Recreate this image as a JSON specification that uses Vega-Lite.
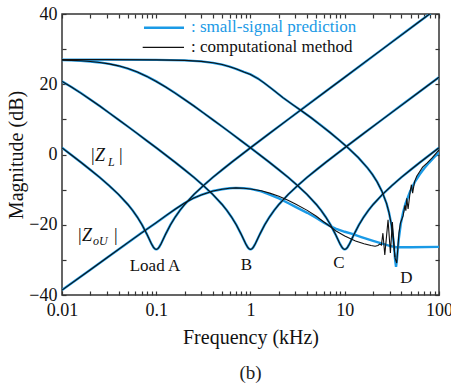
{
  "$schema": "https://vega.github.io/schema/vega-lite/v6.json",
  "width": 377,
  "height": 281,
  "autosize": "none",
  "padding": {"left": 62, "top": 14, "right": 12, "bottom": 88},
  "background": "white",
  "config": {
    "view": {"stroke": "#333333", "strokeWidth": 1.5},
    "font": "Liberation Serif",
    "axis": {"labelFont": "Liberation Serif", "titleFont": "Liberation Serif"},
    "text": {"font": "Liberation Serif"},
    "title": {"font": "Liberation Serif", "fontWeight": "normal"}
  },
  "title": {"text": "(b)", "orient": "bottom", "fontSize": 19, "fontWeight": "normal", "color": "#222222", "offset": 17},
  "datasets": {
    "zl": [
      {"load": "A", "f": 0.01, "db": 1.9}, {"load": "A", "f": 0.012589, "db": -0.14}, {"load": "A", "f": 0.015849, "db": -2.21}, {"load": "A", "f": 0.019953, "db": -4.33}, {"load": "A", "f": 0.025119, "db": -6.53}, {"load": "A", "f": 0.031623, "db": -8.85}, {"load": "A", "f": 0.039811, "db": -11.38}, {"load": "A", "f": 0.050119, "db": -14.27}, {"load": "A", "f": 0.056234, "db": -15.94}, {"load": "A", "f": 0.063096, "db": -17.85}, {"load": "A", "f": 0.070795, "db": -20.06}, {"load": "A", "f": 0.079433, "db": -22.66}, {"load": "A", "f": 0.08414, "db": -24.08}, {"load": "A", "f": 0.089125, "db": -25.47}, {"load": "A", "f": 0.093325, "db": -26.39}, {"load": "A", "f": 0.095499, "db": -26.72}, {"load": "A", "f": 0.097724, "db": -26.92}, {"load": "A", "f": 0.1, "db": -27.0}, {"load": "A", "f": 0.10233, "db": -26.92}, {"load": "A", "f": 0.10471, "db": -26.72}, {"load": "A", "f": 0.10715, "db": -26.39}, {"load": "A", "f": 0.1122, "db": -25.47}, {"load": "A", "f": 0.11885, "db": -24.08}, {"load": "A", "f": 0.12589, "db": -22.66}, {"load": "A", "f": 0.14125, "db": -20.06}, {"load": "A", "f": 0.15849, "db": -17.85}, {"load": "A", "f": 0.17783, "db": -15.94}, {"load": "A", "f": 0.19953, "db": -14.27}, {"load": "A", "f": 0.25119, "db": -11.38}, {"load": "A", "f": 0.31623, "db": -8.85}, {"load": "A", "f": 0.39811, "db": -6.53}, {"load": "A", "f": 0.50119, "db": -4.33}, {"load": "A", "f": 0.63096, "db": -2.21}, {"load": "A", "f": 0.79433, "db": -0.14}, {"load": "A", "f": 1, "db": 1.91}, {"load": "A", "f": 1.5849, "db": 5.97}, {"load": "A", "f": 2.5119, "db": 9.99}, {"load": "A", "f": 3.9811, "db": 14.0}, {"load": "A", "f": 6.3096, "db": 18.0}, {"load": "A", "f": 10, "db": 22.0}, {"load": "A", "f": 15.849, "db": 26.0}, {"load": "A", "f": 25.119, "db": 30.0}, {"load": "A", "f": 39.811, "db": 34.0}, {"load": "A", "f": 63.096, "db": 38.0}, {"load": "A", "f": 100, "db": 42.0},
      {"load": "B", "f": 0.01, "db": 20.81}, {"load": "B", "f": 0.012589, "db": 19.21}, {"load": "B", "f": 0.015849, "db": 17.48}, {"load": "B", "f": 0.019953, "db": 15.67}, {"load": "B", "f": 0.025119, "db": 13.79}, {"load": "B", "f": 0.031623, "db": 11.85}, {"load": "B", "f": 0.039811, "db": 9.9}, {"load": "B", "f": 0.050119, "db": 7.93}, {"load": "B", "f": 0.063096, "db": 5.94}, {"load": "B", "f": 0.079433, "db": 3.93}, {"load": "B", "f": 0.1, "db": 1.91}, {"load": "B", "f": 0.12589, "db": -0.14}, {"load": "B", "f": 0.15849, "db": -2.21}, {"load": "B", "f": 0.19953, "db": -4.33}, {"load": "B", "f": 0.25119, "db": -6.53}, {"load": "B", "f": 0.31623, "db": -8.85}, {"load": "B", "f": 0.39811, "db": -11.38}, {"load": "B", "f": 0.50119, "db": -14.27}, {"load": "B", "f": 0.56234, "db": -15.94}, {"load": "B", "f": 0.63096, "db": -17.85}, {"load": "B", "f": 0.70795, "db": -20.06}, {"load": "B", "f": 0.79433, "db": -22.66}, {"load": "B", "f": 0.8414, "db": -24.08}, {"load": "B", "f": 0.89125, "db": -25.47}, {"load": "B", "f": 0.93325, "db": -26.39}, {"load": "B", "f": 0.95499, "db": -26.72}, {"load": "B", "f": 0.97724, "db": -26.92}, {"load": "B", "f": 1, "db": -27.0}, {"load": "B", "f": 1.0233, "db": -26.92}, {"load": "B", "f": 1.0471, "db": -26.72}, {"load": "B", "f": 1.0715, "db": -26.39}, {"load": "B", "f": 1.122, "db": -25.47}, {"load": "B", "f": 1.1885, "db": -24.08}, {"load": "B", "f": 1.2589, "db": -22.66}, {"load": "B", "f": 1.4125, "db": -20.06}, {"load": "B", "f": 1.5849, "db": -17.85}, {"load": "B", "f": 1.7783, "db": -15.94}, {"load": "B", "f": 1.9953, "db": -14.27}, {"load": "B", "f": 2.5119, "db": -11.38}, {"load": "B", "f": 3.1623, "db": -8.85}, {"load": "B", "f": 3.9811, "db": -6.53}, {"load": "B", "f": 5.0119, "db": -4.33}, {"load": "B", "f": 6.3096, "db": -2.21}, {"load": "B", "f": 7.9433, "db": -0.14}, {"load": "B", "f": 10, "db": 1.91}, {"load": "B", "f": 15.849, "db": 5.97}, {"load": "B", "f": 25.119, "db": 9.99}, {"load": "B", "f": 39.811, "db": 14.0}, {"load": "B", "f": 63.096, "db": 18.0}, {"load": "B", "f": 100, "db": 22.0},
      {"load": "C", "f": 0.01, "db": 26.87}, {"load": "C", "f": 0.012589, "db": 26.79}, {"load": "C", "f": 0.015849, "db": 26.67}, {"load": "C", "f": 0.019953, "db": 26.49}, {"load": "C", "f": 0.025119, "db": 26.21}, {"load": "C", "f": 0.031623, "db": 25.81}, {"load": "C", "f": 0.039811, "db": 25.24}, {"load": "C", "f": 0.050119, "db": 24.46}, {"load": "C", "f": 0.063096, "db": 23.46}, {"load": "C", "f": 0.079433, "db": 22.24}, {"load": "C", "f": 0.1, "db": 20.81}, {"load": "C", "f": 0.12589, "db": 19.21}, {"load": "C", "f": 0.15849, "db": 17.48}, {"load": "C", "f": 0.19953, "db": 15.67}, {"load": "C", "f": 0.25119, "db": 13.79}, {"load": "C", "f": 0.31623, "db": 11.85}, {"load": "C", "f": 0.39811, "db": 9.9}, {"load": "C", "f": 0.50119, "db": 7.93}, {"load": "C", "f": 0.63096, "db": 5.94}, {"load": "C", "f": 0.79433, "db": 3.93}, {"load": "C", "f": 1, "db": 1.9}, {"load": "C", "f": 1.2589, "db": -0.14}, {"load": "C", "f": 1.5849, "db": -2.21}, {"load": "C", "f": 1.9953, "db": -4.33}, {"load": "C", "f": 2.5119, "db": -6.53}, {"load": "C", "f": 3.1623, "db": -8.85}, {"load": "C", "f": 3.9811, "db": -11.38}, {"load": "C", "f": 5.0119, "db": -14.27}, {"load": "C", "f": 5.6234, "db": -15.94}, {"load": "C", "f": 6.3096, "db": -17.85}, {"load": "C", "f": 7.0795, "db": -20.06}, {"load": "C", "f": 7.9433, "db": -22.66}, {"load": "C", "f": 8.414, "db": -24.08}, {"load": "C", "f": 8.9125, "db": -25.47}, {"load": "C", "f": 9.3325, "db": -26.39}, {"load": "C", "f": 9.5499, "db": -26.72}, {"load": "C", "f": 9.7724, "db": -26.92}, {"load": "C", "f": 10, "db": -27.0}, {"load": "C", "f": 10.233, "db": -26.92}, {"load": "C", "f": 10.471, "db": -26.72}, {"load": "C", "f": 10.715, "db": -26.39}, {"load": "C", "f": 11.22, "db": -25.47}, {"load": "C", "f": 11.885, "db": -24.08}, {"load": "C", "f": 12.589, "db": -22.66}, {"load": "C", "f": 14.125, "db": -20.06}, {"load": "C", "f": 15.849, "db": -17.85}, {"load": "C", "f": 17.783, "db": -15.94}, {"load": "C", "f": 19.953, "db": -14.27}, {"load": "C", "f": 25.119, "db": -11.38}, {"load": "C", "f": 31.623, "db": -8.85}, {"load": "C", "f": 39.811, "db": -6.53}, {"load": "C", "f": 50.119, "db": -4.33}, {"load": "C", "f": 63.096, "db": -2.21}, {"load": "C", "f": 79.433, "db": -0.14}, {"load": "C", "f": 100, "db": 1.91}
    ],
    "blue": [
      {"curve": "D", "f": 0.01, "db": 27.0}, {"curve": "D", "f": 0.03, "db": 27.0}, {"curve": "D", "f": 0.1, "db": 26.95}, {"curve": "D", "f": 0.2, "db": 26.8}, {"curve": "D", "f": 0.3, "db": 26.5}, {"curve": "D", "f": 0.4, "db": 26.1}, {"curve": "D", "f": 0.5, "db": 25.6}, {"curve": "D", "f": 0.6, "db": 25.0}, {"curve": "D", "f": 0.7, "db": 24.4}, {"curve": "D", "f": 0.85, "db": 23.5}, {"curve": "D", "f": 1.0, "db": 22.8}, {"curve": "D", "f": 1.2, "db": 21.6}, {"curve": "D", "f": 1.393, "db": 20.4}, {"curve": "D", "f": 1.7, "db": 18.6}, {"curve": "D", "f": 2.208, "db": 16.2}, {"curve": "D", "f": 2.8, "db": 14.2}, {"curve": "D", "f": 3.5, "db": 12.4}, {"curve": "D", "f": 4.4, "db": 10.46}, {"curve": "D", "f": 5.54, "db": 8.38}, {"curve": "D", "f": 6.98, "db": 6.25}, {"curve": "D", "f": 8.79, "db": 4.03}, {"curve": "D", "f": 11.07, "db": 1.68}, {"curve": "D", "f": 13.94, "db": -0.9}, {"curve": "D", "f": 17.54, "db": -3.91}, {"curve": "D", "f": 19.68, "db": -5.7}, {"curve": "D", "f": 22.08, "db": -7.81}, {"curve": "D", "f": 24.78, "db": -10.44}, {"curve": "D", "f": 27.8, "db": -14.0}, {"curve": "D", "f": 29.44, "db": -16.47}, {"curve": "D", "f": 31.19, "db": -19.87}, {"curve": "D", "f": 32.66, "db": -23.87}, {"curve": "D", "f": 33.42, "db": -26.62}, {"curve": "D", "f": 34.2, "db": -29.93}, {"curve": "D", "f": 35.0, "db": -32.0}, {"curve": "D", "f": 35.82, "db": -29.93}, {"curve": "D", "f": 36.65, "db": -26.62}, {"curve": "D", "f": 37.51, "db": -23.87}, {"curve": "D", "f": 39.27, "db": -19.87}, {"curve": "D", "f": 41.61, "db": -16.47}, {"curve": "D", "f": 44.06, "db": -14.0}, {"curve": "D", "f": 49.44, "db": -10.44}, {"curve": "D", "f": 55.47, "db": -7.81}, {"curve": "D", "f": 62.24, "db": -5.7}, {"curve": "D", "f": 69.83, "db": -3.91}, {"curve": "D", "f": 78.7, "db": -2.3}, {"curve": "D", "f": 87.9, "db": -0.9}, {"curve": "D", "f": 100, "db": 0.54},
      {"curve": "ZoU", "f": 0.01, "db": -38.6}, {"curve": "ZoU", "f": 0.02, "db": -32.8}, {"curve": "ZoU", "f": 0.03, "db": -29.4}, {"curve": "ZoU", "f": 0.05, "db": -25.1}, {"curve": "ZoU", "f": 0.07, "db": -22.3}, {"curve": "ZoU", "f": 0.1, "db": -19.4}, {"curve": "ZoU", "f": 0.13, "db": -17.2}, {"curve": "ZoU", "f": 0.16, "db": -15.5}, {"curve": "ZoU", "f": 0.2, "db": -13.8}, {"curve": "ZoU", "f": 0.25, "db": -12.4}, {"curve": "ZoU", "f": 0.3, "db": -11.5}, {"curve": "ZoU", "f": 0.4, "db": -10.4}, {"curve": "ZoU", "f": 0.5, "db": -9.9}, {"curve": "ZoU", "f": 0.6, "db": -9.6}, {"curve": "ZoU", "f": 0.7, "db": -9.5}, {"curve": "ZoU", "f": 0.85, "db": -9.6}, {"curve": "ZoU", "f": 1.0, "db": -9.8}, {"curve": "ZoU", "f": 1.3, "db": -10.5}, {"curve": "ZoU", "f": 1.6, "db": -11.4}, {"curve": "ZoU", "f": 2.0, "db": -12.5}, {"curve": "ZoU", "f": 2.5, "db": -13.8}, {"curve": "ZoU", "f": 3.0, "db": -14.9}, {"curve": "ZoU", "f": 4.0, "db": -16.6}, {"curve": "ZoU", "f": 5.0, "db": -18.1}, {"curve": "ZoU", "f": 6.0, "db": -19.4}, {"curve": "ZoU", "f": 7.0, "db": -20.4}, {"curve": "ZoU", "f": 8.0, "db": -21.1}, {"curve": "ZoU", "f": 10, "db": -22.0}, {"curve": "ZoU", "f": 12, "db": -22.6}, {"curve": "ZoU", "f": 15, "db": -23.5}, {"curve": "ZoU", "f": 20, "db": -24.6}, {"curve": "ZoU", "f": 25, "db": -25.4}, {"curve": "ZoU", "f": 30, "db": -26.0}, {"curve": "ZoU", "f": 35, "db": -26.4}, {"curve": "ZoU", "f": 50, "db": -26.4}, {"curve": "ZoU", "f": 100, "db": -26.3}
    ],
    "black": [
      {"curve": "D", "f": 0.01, "db": 27.0}, {"curve": "D", "f": 0.03, "db": 27.0}, {"curve": "D", "f": 0.1, "db": 26.95}, {"curve": "D", "f": 0.2, "db": 26.8}, {"curve": "D", "f": 0.3, "db": 26.5}, {"curve": "D", "f": 0.4, "db": 26.1}, {"curve": "D", "f": 0.5, "db": 25.6}, {"curve": "D", "f": 0.6, "db": 25.0}, {"curve": "D", "f": 0.7, "db": 24.4}, {"curve": "D", "f": 0.85, "db": 23.5}, {"curve": "D", "f": 1.0, "db": 22.8}, {"curve": "D", "f": 1.2, "db": 21.6}, {"curve": "D", "f": 1.393, "db": 20.4}, {"curve": "D", "f": 1.7, "db": 18.6}, {"curve": "D", "f": 2.208, "db": 16.2}, {"curve": "D", "f": 2.8, "db": 14.2}, {"curve": "D", "f": 3.5, "db": 12.4}, {"curve": "D", "f": 4.4, "db": 10.46}, {"curve": "D", "f": 5.54, "db": 8.38}, {"curve": "D", "f": 6.98, "db": 6.25}, {"curve": "D", "f": 8.79, "db": 4.03}, {"curve": "D", "f": 11.07, "db": 1.68}, {"curve": "D", "f": 13.94, "db": -0.9}, {"curve": "D", "f": 17.54, "db": -3.91}, {"curve": "D", "f": 19.68, "db": -5.7}, {"curve": "D", "f": 22.08, "db": -7.81}, {"curve": "D", "f": 24.78, "db": -10.44}, {"curve": "D", "f": 27.8, "db": -14.0}, {"curve": "D", "f": 29.44, "db": -16.47}, {"curve": "D", "f": 31.19, "db": -19.87}, {"curve": "D", "f": 32.66, "db": -23.87}, {"curve": "D", "f": 33.42, "db": -26.62}, {"curve": "D", "f": 34.2, "db": -29.5}, {"curve": "D", "f": 35.6, "db": -30.9}, {"curve": "D", "f": 37.6, "db": -22.4}, {"curve": "D", "f": 39.0, "db": -19.5}, {"curve": "D", "f": 41.6, "db": -17.5}, {"curve": "D", "f": 43.5, "db": -14.5}, {"curve": "D", "f": 44.5, "db": -16.0}, {"curve": "D", "f": 45.5, "db": -12.5}, {"curve": "D", "f": 47.0, "db": -15.5}, {"curve": "D", "f": 49.5, "db": -10.5}, {"curve": "D", "f": 51.0, "db": -8.6}, {"curve": "D", "f": 52.5, "db": -11.0}, {"curve": "D", "f": 55.0, "db": -7.8}, {"curve": "D", "f": 58.0, "db": -6.2}, {"curve": "D", "f": 62, "db": -5.0}, {"curve": "D", "f": 67, "db": -3.6}, {"curve": "D", "f": 75, "db": -2.4}, {"curve": "D", "f": 85, "db": -0.9}, {"curve": "D", "f": 100, "db": 1.3},
      {"curve": "ZoU", "f": 0.01, "db": -38.6}, {"curve": "ZoU", "f": 0.02, "db": -32.8}, {"curve": "ZoU", "f": 0.03, "db": -29.4}, {"curve": "ZoU", "f": 0.05, "db": -25.1}, {"curve": "ZoU", "f": 0.07, "db": -22.3}, {"curve": "ZoU", "f": 0.1, "db": -19.4}, {"curve": "ZoU", "f": 0.13, "db": -17.2}, {"curve": "ZoU", "f": 0.16, "db": -15.5}, {"curve": "ZoU", "f": 0.2, "db": -13.8}, {"curve": "ZoU", "f": 0.25, "db": -12.4}, {"curve": "ZoU", "f": 0.3, "db": -11.5}, {"curve": "ZoU", "f": 0.4, "db": -10.4}, {"curve": "ZoU", "f": 0.5, "db": -9.9}, {"curve": "ZoU", "f": 0.6, "db": -9.6}, {"curve": "ZoU", "f": 0.7, "db": -9.5}, {"curve": "ZoU", "f": 0.85, "db": -9.6}, {"curve": "ZoU", "f": 1.0, "db": -9.8}, {"curve": "ZoU", "f": 1.3, "db": -10.3}, {"curve": "ZoU", "f": 1.6, "db": -11.0}, {"curve": "ZoU", "f": 2.0, "db": -11.9}, {"curve": "ZoU", "f": 2.5, "db": -13.0}, {"curve": "ZoU", "f": 3.0, "db": -14.1}, {"curve": "ZoU", "f": 4.0, "db": -15.9}, {"curve": "ZoU", "f": 5.0, "db": -17.6}, {"curve": "ZoU", "f": 6.0, "db": -19.2}, {"curve": "ZoU", "f": 7.0, "db": -20.5}, {"curve": "ZoU", "f": 8.0, "db": -21.7}, {"curve": "ZoU", "f": 10, "db": -23.2}, {"curve": "ZoU", "f": 13, "db": -24.6}, {"curve": "ZoU", "f": 16, "db": -25.4}, {"curve": "ZoU", "f": 19, "db": -25.9}, {"curve": "ZoU", "f": 21, "db": -26.1}, {"curve": "ZoU", "f": 22.5, "db": -25.9}, {"curve": "ZoU", "f": 23.5, "db": -25.5}, {"curve": "ZoU", "f": 24.5, "db": -25.8}, {"curve": "ZoU", "f": 25.4, "db": -22.4}, {"curve": "ZoU", "f": 26.6, "db": -28.6}, {"curve": "ZoU", "f": 28.8, "db": -18.6}, {"curve": "ZoU", "f": 30.5, "db": -28.0}, {"curve": "ZoU", "f": 32.0, "db": -19.2}, {"curve": "ZoU", "f": 34.0, "db": -29.2}
    ]
  },
  "layer": [
    {
      "data": {"name": "zl"},
      "mark": {"type": "line", "clip": true, "color": "#1a9ae6", "strokeWidth": 2.4},
      "encoding": {
        "x": {"field": "f", "type": "quantitative",
          "scale": {"type": "log", "domain": [0.01, 100], "nice": false},
          "axis": {"orient": "bottom", "values": [0.01,0.02,0.03,0.04,0.05,0.06,0.07,0.08,0.09,0.1,0.2,0.3,0.4,0.5,0.6,0.7,0.8,0.9,1,2,3,4,5,6,7,8,9,10,20,30,40,50,60,70,80,90,100],
            "format": "~g", "labelExpr": "(datum.value == 0.01 || datum.value == 0.1 || datum.value == 1 || datum.value == 10 || datum.value == 100) ? datum.label : ''",
            "labelOverlap": false, "labelFlush": false, "domain": false, "grid": false, "tickSize": -4, "tickColor": "#333333", "tickWidth": 1.2,
            "labelPadding": 10, "labelFont": "Liberation Serif", "labelFontSize": 18, "labelColor": "#111111",
            "title": "Frequency (kHz)", "titleFont": "Liberation Serif", "titleFontSize": 20, "titleFontWeight": "normal", "titleColor": "#111111", "titlePadding": 8}},
        "y": {"field": "db", "type": "quantitative",
          "scale": {"domain": [-40, 40], "nice": false},
          "axis": {"orient": "left", "values": [-40,-30,-20,-10,0,10,20,30,40],
            "labelExpr": "datum.value % 20 === 0 ? datum.label : ''",
            "labelOverlap": false, "labelFlush": false, "domain": false, "grid": false, "tickSize": -4, "tickColor": "#333333", "tickWidth": 1.2,
            "labelPadding": 9, "labelFont": "Liberation Serif", "labelFontSize": 18, "labelColor": "#111111",
            "title": "Magnitude (dB)", "titleFont": "Liberation Serif", "titleFontSize": 20, "titleFontWeight": "normal", "titleColor": "#111111", "titlePadding": 2}},
        "detail": {"field": "load", "type": "nominal"}
      }
    },
    {
      "data": {"name": "blue"},
      "mark": {"type": "line", "clip": true, "color": "#1a9ae6", "strokeWidth": 2.4},
      "encoding": {
        "x": {"field": "f", "type": "quantitative", "axis": null},
        "y": {"field": "db", "type": "quantitative", "axis": null},
        "detail": {"field": "curve", "type": "nominal"}
      }
    },
    {
      "data": {"name": "zl"},
      "mark": {"type": "line", "clip": true, "color": "#111111", "strokeWidth": 1.1},
      "encoding": {
        "x": {"field": "f", "type": "quantitative",
          "axis": {"orient": "top", "values": [0.01,0.02,0.03,0.04,0.05,0.06,0.07,0.08,0.09,0.1,0.2,0.3,0.4,0.5,0.6,0.7,0.8,0.9,1,2,3,4,5,6,7,8,9,10,20,30,40,50,60,70,80,90,100],
            "labels": false, "domain": false, "grid": false, "tickSize": -4, "tickColor": "#333333", "tickWidth": 1.2, "title": null}},
        "y": {"field": "db", "type": "quantitative",
          "axis": {"orient": "right", "values": [-40,-30,-20,-10,0,10,20,30,40],
            "labels": false, "domain": false, "grid": false, "tickSize": -4, "tickColor": "#333333", "tickWidth": 1.2, "title": null}},
        "detail": {"field": "load", "type": "nominal"}
      }
    },
    {
      "data": {"name": "black"},
      "mark": {"type": "line", "clip": true, "color": "#111111", "strokeWidth": 1.1},
      "encoding": {
        "x": {"field": "f", "type": "quantitative", "axis": null},
        "y": {"field": "db", "type": "quantitative", "axis": null},
        "detail": {"field": "curve", "type": "nominal"}
      }
    },
    {
      "data": {"values": [{"f1": 0.0741, "f2": 0.197, "db": 36.1}]},
      "mark": {"type": "rule", "color": "#1a9ae6", "strokeWidth": 2.4},
      "encoding": {
        "x": {"field": "f1", "type": "quantitative", "axis": null},
        "x2": {"field": "f2"},
        "y": {"field": "db", "type": "quantitative", "axis": null}
      }
    },
    {
      "data": {"values": [{"f1": 0.0718, "f2": 0.197, "db": 30.5}]},
      "mark": {"type": "rule", "color": "#111111", "strokeWidth": 1.1},
      "encoding": {
        "x": {"field": "f1", "type": "quantitative", "axis": null},
        "x2": {"field": "f2"},
        "y": {"field": "db", "type": "quantitative", "axis": null}
      }
    },
    {
      "data": {"values": [{"t": ": small-signal prediction", "f": 0.2337, "db": 34.8}]},
      "mark": {"type": "text", "align": "left", "baseline": "alphabetic", "font": "Liberation Serif", "fontSize": 17, "color": "#1a9ae6"},
      "encoding": {
        "x": {"field": "f", "type": "quantitative", "axis": null},
        "y": {"field": "db", "type": "quantitative", "axis": null},
        "text": {"field": "t"}
      }
    },
    {
      "data": {"values": [{"t": ": computational method", "f": 0.2337, "db": 29.3}]},
      "mark": {"type": "text", "align": "left", "baseline": "alphabetic", "font": "Liberation Serif", "fontSize": 17, "color": "#111111"},
      "encoding": {
        "x": {"field": "f", "type": "quantitative", "axis": null},
        "y": {"field": "db", "type": "quantitative", "axis": null},
        "text": {"field": "t"}
      }
    },
    {
      "data": {"values": [{"t": "Load A", "f": 0.097, "db": -33.2}, {"t": "B", "f": 0.907, "db": -32.9}, {"t": "C", "f": 8.69, "db": -32.3}, {"t": "D", "f": 45.2, "db": -36.6}]},
      "mark": {"type": "text", "align": "center", "baseline": "alphabetic", "font": "Liberation Serif", "fontSize": 17, "color": "#111111"},
      "encoding": {
        "x": {"field": "f", "type": "quantitative", "axis": null},
        "y": {"field": "db", "type": "quantitative", "axis": null},
        "text": {"field": "t"}
      }
    },
    {
      "data": {"values": [{"t": "|Z", "f": 0.0198, "db": -1.85}, {"t": "|", "f": 0.03926, "db": -1.85}, {"t": "|Z", "f": 0.01443, "db": -24.6}, {"t": "|", "f": 0.03475, "db": -24.6}]},
      "mark": {"type": "text", "align": "left", "baseline": "alphabetic", "font": "Liberation Serif", "fontSize": 18, "fontStyle": "italic", "color": "#111111"},
      "encoding": {
        "x": {"field": "f", "type": "quantitative", "axis": null},
        "y": {"field": "db", "type": "quantitative", "axis": null},
        "text": {"field": "t"}
      }
    },
    {
      "data": {"values": [{"t": "L", "f": 0.03076, "db": -3.3}, {"t": "oU", "f": 0.02133, "db": -25.8}]},
      "mark": {"type": "text", "align": "left", "baseline": "alphabetic", "font": "Liberation Serif", "fontSize": 12, "fontStyle": "italic", "color": "#111111"},
      "encoding": {
        "x": {"field": "f", "type": "quantitative", "axis": null},
        "y": {"field": "db", "type": "quantitative", "axis": null},
        "text": {"field": "t"}
      }
    }
  ],
  "resolve": {"axis": {"x": "independent", "y": "independent"}}
}
